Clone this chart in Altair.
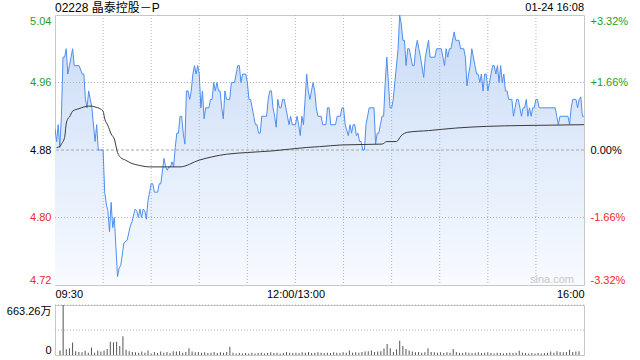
import altair as alt
import pandas as pd

FONT = "Liberation Sans, Arial, Noto Sans CJK SC"
TITLE = "02228 晶泰控股－P"
STAMP = "01-24 16:08"
WATERMARK = "sina.com"
PREV_CLOSE = 4.88
GREEN = "#1ea01e"
RED = "#f02828"

# minute of the trading session (0 = 09:30, 150 = 12:00/13:00, 330 = 16:00)
price_minute = [0, 1, 2, 3, 4, 5, 6, 7, 8, 9, 10, 11, 12, 15, 17, 18, 19, 20, 21, 22, 23, 25, 26, 27, 30,
                31, 32, 33, 34, 35, 36, 37, 39, 40, 41, 43, 45, 47, 48, 50, 51, 52, 53, 54, 55, 56, 57, 58, 60,
                61, 62, 64, 65, 66, 68, 69, 70, 71, 72, 73, 74, 75, 76, 77, 78, 79, 80, 81, 82, 83, 84, 85, 86,
                87, 88, 89, 90, 91, 92, 93, 94, 96, 97, 98, 99, 100, 101, 102, 103, 104, 105, 106, 107, 109,
                110, 112, 113, 114, 115, 116, 117, 119, 120, 121, 122, 123, 124, 125, 126, 127, 128, 129, 132,
                133, 134, 135, 136, 137, 138, 139, 140, 141, 142, 143, 144, 145, 146, 147, 148, 150, 151, 152,
                153, 154, 155, 156, 157, 158, 159, 160, 161, 162, 163, 164, 166, 167, 169, 170, 171, 172, 175,
                176, 178, 179, 180, 181, 183, 184, 185, 186, 187, 188, 189, 190, 191, 192, 193, 194, 196, 199,
                200, 201, 202, 203, 204, 205, 206, 207, 208, 209, 210, 211, 212, 214, 215, 216, 217, 218, 219,
                220, 221, 222, 223, 224, 225, 226, 227, 228, 230, 231, 233, 234, 237, 238, 241, 242, 243, 244,
                245, 246, 247, 248, 249, 250, 252, 253, 255, 256, 257, 258, 259, 260, 262, 263, 264, 265, 266,
                267, 268, 269, 270, 271, 272, 273, 274, 275, 276, 277, 278, 279, 280, 281, 282, 283, 285, 286,
                287, 288, 289, 290, 291, 292, 293, 294, 295, 296, 297, 298, 299, 300, 301, 302, 312, 313, 314,
                315, 320, 321, 322, 323, 325, 326, 327, 328, 329, 330]
price_value = [4.905, 4.89, 4.91, 4.883, 4.92, 4.99, 4.99, 5.00, 4.97, 4.98, 4.99, 5.00, 4.98, 4.98, 4.97, 4.97,
               4.94, 4.93, 4.95, 4.94, 4.93, 4.89, 4.91, 4.88, 4.88,
               4.83, 4.816, 4.808, 4.783, 4.818, 4.788, 4.80, 4.73, 4.74, 4.743, 4.77, 4.773, 4.79, 4.795, 4.81,
               4.808, 4.80, 4.81, 4.80, 4.81, 4.808, 4.798, 4.82, 4.84,
               4.84, 4.83, 4.83, 4.84, 4.84, 4.87, 4.86, 4.856, 4.86, 4.86, 4.866, 4.86, 4.883, 4.90, 4.90, 4.92,
               4.92, 4.90, 4.887, 4.95, 4.95, 4.94, 4.95, 4.97,
               4.98, 4.97, 4.98, 4.97, 4.93, 4.95, 4.917, 4.93, 4.93, 4.94, 4.94, 4.96, 4.95, 4.96, 4.95, 4.95,
               4.93, 4.917, 4.95, 4.94, 4.94,
               4.96, 4.96, 4.97, 4.98, 4.98, 4.96, 4.97, 4.97, 4.96, 4.94, 4.94, 4.93, 4.92, 4.91, 4.91, 4.90,
               4.90, 4.92, 4.92,
               4.94, 4.95, 4.95, 4.93, 4.92, 4.907, 4.94, 4.93, 4.93, 4.94, 4.94, 4.93, 4.92, 4.91, 4.92, 4.91,
               4.91, 4.92, 4.91,
               4.897, 4.92, 4.91, 4.94, 4.97, 4.95, 4.94, 4.95, 4.96, 4.95, 4.93, 4.92, 4.92, 4.91, 4.91, 4.93,
               4.93, 4.91, 4.91,
               4.92, 4.92, 4.93, 4.93, 4.91, 4.897, 4.91, 4.90, 4.91, 4.91, 4.897, 4.90, 4.89, 4.89, 4.88, 4.88,
               4.91, 4.93, 4.93,
               4.887, 4.90, 4.90, 4.91, 4.92, 4.92, 4.96, 4.99, 4.96, 4.93, 4.93, 4.94, 4.96, 5.00, 5.04, 5.03,
               5.01, 5.01, 4.98,
               5.00, 5.00, 4.99, 4.98, 4.98, 5.00, 5.01, 5.00, 4.99, 4.966, 4.99, 5.01, 4.99, 4.99, 5.00, 5.00,
               4.99, 4.98, 5.00,
               4.99, 5.00, 5.00, 5.01, 5.02, 5.01, 5.01, 5.00, 5.00, 4.99, 4.956, 4.97, 4.98, 5.00, 4.98, 4.97,
               4.97, 4.96, 4.97,
               4.95, 4.97, 4.97, 4.95, 4.96, 4.97, 4.98, 4.98, 4.97, 4.98, 4.96, 4.98, 4.96, 4.97, 4.95, 4.95,
               4.94, 4.94, 4.92,
               4.93, 4.94, 4.94, 4.93, 4.92, 4.93, 4.93, 4.94, 4.92, 4.93, 4.92, 4.93, 4.93, 4.94, 4.94, 4.93,
               4.93, 4.92, 4.91,
               4.92, 4.92, 4.91, 4.93, 4.94, 4.94, 4.93, 4.94, 4.943, 4.92, 4.92]

avg_minute = [1, 3, 4, 6, 7, 8, 9, 11, 15, 18, 21, 23, 25, 28, 30, 31, 33, 35, 37, 39, 41, 44, 48, 52, 59, 68,
              78, 90, 107, 120, 136, 157, 165, 179, 204, 207, 213, 216, 220, 233, 250, 269, 292, 330]
avg_value = [4.883, 4.884, 4.887, 4.895, 4.911, 4.917, 4.919, 4.926, 4.929, 4.931, 4.932, 4.932, 4.931, 4.929,
             4.926, 4.917, 4.909, 4.899, 4.893, 4.877, 4.871, 4.868, 4.864, 4.862, 4.86, 4.86, 4.86, 4.868,
             4.875, 4.877, 4.879, 4.883, 4.884, 4.886, 4.887, 4.89, 4.89, 4.897, 4.901, 4.903, 4.906, 4.908,
             4.909, 4.91]

# volume (万股), one bar every 2 minutes from 09:30
volume_value = [60, 663, 75, 90, 165, 50, 40, 35, 55, 30, 100, 30, 60, 45, 60, 80, 175, 170, 175, 120,
                250, 70, 50, 40, 35, 30, 45, 30, 60, 20, 40, 25, 45, 30, 40, 25, 50, 45, 50, 30,
                40, 90, 45, 35, 40, 30, 35, 25, 30, 40, 25, 35, 30, 40, 110, 30, 20, 25, 20, 25,
                20, 30, 20, 25, 30, 20, 25, 35, 25, 30, 20, 25, 40, 30, 25, 30, 25, 35, 30, 40,
                25, 30, 35, 30, 25, 30, 25, 35, 30, 25, 35, 30, 60, 30, 35, 30, 40, 45, 50, 60,
                40, 45, 50, 85, 145, 90, 40, 75, 190, 120, 80, 60, 45, 35, 40, 30, 35, 90, 40, 35,
                30, 35, 25, 35, 30, 80, 40, 30, 25, 35, 30, 25, 30, 35, 25, 30, 35, 25, 20, 30,
                25, 20, 25, 30, 25, 30, 55, 30, 25, 20, 25, 20, 25, 20, 25, 30, 45, 30, 50, 40,
                35, 40, 70, 40, 45, 50]

price_ticks = [4.72, 4.80, 4.88, 4.96, 5.04]
pct_ticks = [-3.32, -1.66, 0.0, 1.66, 3.32]
pct_labels = ["-3.32%", "-1.66%", "0.00%", "+1.66%", "+3.32%"]
vol_ticks = [0, 331.63, 663.26]
vol_labels = ["0", "331.63万", "663.26万"]
time_ticks = [0, 30, 60, 90, 120, 150, 180, 210, 240, 270, 300, 330]
time_labels = ["09:30", "", "", "", "", "12:00/13:00", "", "", "", "", "", "16:00"]

W, H, VH = 529, 270, 50
GRID = "#b4b4b4"
DOT = [1, 2]


def label_expr(values, labels):
    return "".join(f"abs(datum.value - ({v})) < 0.001 ? '{l}' : " for v, l in zip(values, labels)) + "''"


def sign_color(mid, eps):
    return {"condition": [{"test": f"datum.value > {mid + eps}", "value": GREEN},
                          {"test": f"datum.value < {mid - eps}", "value": RED}],
            "value": "#000000"}


price_df = pd.DataFrame({"m": price_minute, "p": price_value})
avg_df = pd.DataFrame({"m": avg_minute, "p": avg_value})
vol_df = pd.DataFrame({"m": list(range(0, 331, 2))[:len(volume_value)], "v": volume_value})
pct_df = pd.DataFrame({"m": [0, 330], "pct": [pct_ticks[0], pct_ticks[-1]]})
vgrid_df = pd.DataFrame({"m": time_ticks[1:-1]})
hgrid_df = pd.DataFrame({"p": [t for t in price_ticks[1:-1] if abs(t - PREV_CLOSE) > 0.001]})
zero_df = pd.DataFrame({"p": [PREV_CLOSE]})
vgrid_vol_df = pd.DataFrame({"v": vol_ticks[1:]})

xscale = alt.Scale(domain=[0, 330], nice=False, zero=False)
yscale = alt.Scale(domain=[price_ticks[0], price_ticks[-1]], nice=False, zero=False)

x_axis = alt.Axis(values=time_ticks, labelExpr=label_expr(time_ticks, time_labels), grid=False,
                  domain=False, ticks=False, labelFlush=True,
                  labelOverlap=False, labelPadding=3, labelFontSize=11, labelColor="#000", title=None)
y_axis = alt.Axis(values=price_ticks, format=".2f", grid=False,
                  domain=False, ticks=False, labelFlush=True, labelOverlap=False,
                  labelPadding=4, labelFontSize=11, labelColor=sign_color(PREV_CLOSE, 0.001), title=None)

area = alt.Chart(price_df).mark_area(
    color=alt.Gradient(gradient="linear",
                       stops=[alt.GradientStop(color="#c9dbf7", offset=0),
                              alt.GradientStop(color="#f8fbff", offset=1)],
                       x1=1, x2=1, y1=0, y2=1),
    clip=True
).encode(x=alt.X("m:Q", scale=xscale, axis=x_axis),
         y=alt.Y("p:Q", scale=yscale, axis=y_axis), y2=alt.datum(price_ticks[0]))

vgrid = alt.Chart(vgrid_df).mark_rule(color=GRID, strokeWidth=1, strokeDash=DOT).encode(
    x=alt.X("m:Q", scale=xscale))
hgrid = alt.Chart(hgrid_df).mark_rule(color=GRID, strokeWidth=1, strokeDash=DOT).encode(
    y=alt.Y("p:Q", scale=yscale))
zero_line = alt.Chart(zero_df).mark_rule(color="#a8a8a8", strokeWidth=1, strokeDash=[3, 2]).encode(
    y=alt.Y("p:Q", scale=yscale))

line = alt.Chart(price_df).mark_line(color="#4f8ef0", strokeWidth=1, clip=True).encode(
    x=alt.X("m:Q", scale=xscale), y=alt.Y("p:Q", scale=yscale))

avg = alt.Chart(avg_df).mark_line(color="#3a3a3a", strokeWidth=1, clip=True, interpolate="monotone").encode(
    x=alt.X("m:Q", scale=xscale), y=alt.Y("p:Q", scale=yscale))

title_l = alt.Chart(pd.DataFrame({"t": [TITLE]})).mark_text(
    align="left", baseline="middle", fontSize=12, font=FONT, color="#000").encode(
    x=alt.value(0), y=alt.value(-7), text="t:N")
title_r = alt.Chart(pd.DataFrame({"t": [STAMP]})).mark_text(
    align="right", baseline="middle", fontSize=11, font=FONT, color="#000").encode(
    x=alt.value(W), y=alt.value(-7), text="t:N")
wm = alt.Chart(pd.DataFrame({"t": [WATERMARK]})).mark_text(
    align="center", baseline="middle", fontSize=11, font=FONT, color="#c8c8c8").encode(
    x=alt.value(497), y=alt.value(265), text="t:N")

pct_axis = alt.Axis(orient="right", values=pct_ticks, labelExpr=label_expr(pct_ticks, pct_labels), grid=False,
                    domain=False, ticks=False, labelFlush=True, labelOverlap=False, labelPadding=6,
                    labelFontSize=11, labelColor=sign_color(0, 0.001), title=None)
pct_layer = alt.Chart(pct_df).mark_point(opacity=0).encode(
    x=alt.X("m:Q", scale=xscale),
    y=alt.Y("pct:Q", scale=alt.Scale(domain=[pct_ticks[0], pct_ticks[-1]], nice=False, zero=False),
            axis=pct_axis))

top = alt.layer(alt.layer(area, vgrid, hgrid, zero_line, line, avg, wm, title_l, title_r),
                pct_layer).resolve_scale(y="independent").properties(width=W, height=H)

vscale = alt.Scale(domain=[0, vol_ticks[-1]], nice=False)
vol_axis = alt.Axis(values=vol_ticks, labelExpr=label_expr(vol_ticks, vol_labels), grid=False,
                    domain=False, ticks=False, labelFlush=True,
                    labelOverlap=False, labelPadding=4, labelFontSize=11, labelColor="#000", title=None)
vol_grid = alt.Chart(vgrid_vol_df).mark_rule(color=GRID, strokeWidth=1, strokeDash=DOT).encode(
    y=alt.Y("v:Q", scale=vscale))
vol_bars = alt.Chart(vol_df).mark_bar(color="#555555", width=1).encode(
    x=alt.X("m:Q", scale=xscale, axis=None),
    y=alt.Y("v:Q", scale=vscale, axis=vol_axis))
vol = alt.layer(vol_bars, vol_grid).properties(width=W, height=VH)

chart = alt.vconcat(top, vol, spacing=4).properties(
    padding={"left": 5, "top": 1, "right": 5, "bottom": 2}, background="white"
).configure(font=FONT).configure_view(stroke="#c8c8c8", strokeWidth=1)

chart.save("out.html", embed_options={"renderer": "svg", "actions": False})
